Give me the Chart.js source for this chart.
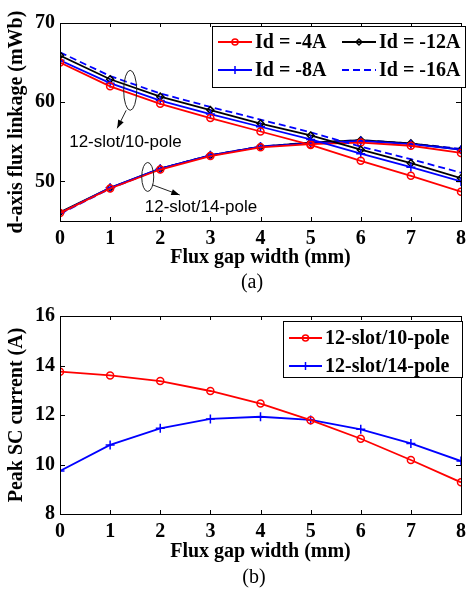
<!DOCTYPE html>
<html>
<head>
<meta charset="utf-8">
<title>Flux gap width</title>
<script src="https://cdn.jsdelivr.net/npm/chart.js@4.4.0/dist/chart.umd.min.js"></script>
<style>
    html, body { margin: 0; padding: 0; background: #fff; }
    #wrap { position: relative; width: 472px; height: 589px; overflow: hidden; }
    canvas { position: absolute; left: 0; }
</style>
</head>
<body>
<div id="wrap">
    <canvas id="chartA" width="472" height="295" style="top:0"></canvas>
    <canvas id="chartB" width="472" height="294" style="top:295px"></canvas>
</div>
<script>
// ---- data ----
const gapWidth = [0, 1, 2, 3, 4, 5, 6, 7, 8];
const currentLabels = ['Id = -4A', 'Id = -8A', 'Id = -12A', 'Id = -16A'];

// (a) d-axis flux linkage, 12-slot/10-pole
const flux10_4A  = [65.0, 62.0, 59.8, 58.0, 56.3, 54.6, 52.6, 50.7, 48.7];
const flux10_8A  = [65.3, 62.4, 60.2, 58.5, 56.9, 55.3, 53.5, 51.8, 50.0];
const flux10_12A = [65.9, 62.9, 60.7, 59.0, 57.3, 55.8, 54.0, 52.3, 50.4];
const flux10_16A = [66.3, 63.3, 61.1, 59.4, 57.8, 56.2, 54.4, 52.8, 51.1];
// (a) d-axis flux linkage, 12-slot/14-pole
const flux14_4A  = [46.0, 49.1, 51.5, 53.2, 54.3, 54.7, 54.9, 54.5, 53.6];
const flux14_8A  = [46.0, 49.2, 51.6, 53.3, 54.4, 54.8, 55.1, 54.7, 54.0];
const flux14_12A = [46.1, 49.2, 51.6, 53.3, 54.4, 54.9, 55.2, 54.8, 54.0];
const flux14_16A = [45.9, 49.1, 51.6, 53.3, 54.4, 54.9, 55.2, 54.8, 54.1];
const yTicksA = [50, 60, 70];

// (b) peak short-circuit current
const slotPoleLabels = ['12-slot/10-pole', '12-slot/14-pole'];
const scCurrent10 = [13.75, 13.6, 13.37, 12.97, 12.46, 11.79, 11.04, 10.18, 9.28];
const scCurrent14 = [9.74, 10.79, 11.46, 11.84, 11.93, 11.8, 11.42, 10.85, 10.14];
const yTicksB = [8, 10, 12, 14, 16];

const SERIF = '"Liberation Serif", "Times New Roman", serif';
const SANS = '"Liberation Sans", Arial, sans-serif';

function toPoints(values) {
    return gapWidth.map((g, i) => ({ x: g, y: values[i] }));
}

/**
 * Series styles
 */
const styles = {
    red:   { borderColor: '#ff0000', pointStyle: 'circle', pointRadius: 3.5, pointBorderWidth: 1.5 },
    blue:  { borderColor: '#0000ff', pointStyle: 'cross', pointRadius: 4.5, pointBorderWidth: 1.5 },
    black: { borderColor: '#000000', pointStyle: 'rectRot', pointRadius: 3.5, pointBorderWidth: 1.5 },
    dash:  { borderColor: '#0000ff', pointStyle: false, pointRadius: 0, pointBorderWidth: 0, borderDash: [7, 4] }
};

function makeSet(label, values, st) {
    return {
        label: label,
        data: toPoints(values),
        borderColor: st.borderColor,
        borderWidth: 1.8,
        borderDash: st.borderDash || [],
        pointStyle: st.pointStyle,
        pointRadius: st.pointRadius,
        pointBorderWidth: st.pointBorderWidth,
        pointBorderColor: st.borderColor,
        pointBackgroundColor: 'rgba(0,0,0,0)',
        tension: 0,
        fill: false
    };
}

/**
 * Box with inward ticks on all four sides (MATLAB look)
 */
const frameTicks = {
    id: 'frameTicks',
    afterDatasetsDraw(chart) {
        const ctx = chart.ctx;
        const a = chart.chartArea;
        const xs = chart.scales.x, ys = chart.scales.y;
        ctx.save();
        ctx.strokeStyle = '#000';
        ctx.lineWidth = 1;
        ctx.beginPath();
        xs.ticks.forEach(t => {
            const px = Math.round(xs.getPixelForValue(t.value)) + 0.5;
            ctx.moveTo(px, a.bottom); ctx.lineTo(px, a.bottom - 4);
            ctx.moveTo(px, a.top); ctx.lineTo(px, a.top + 4);
        });
        ys.ticks.forEach(t => {
            const py = Math.round(ys.getPixelForValue(t.value)) + 0.5;
            ctx.moveTo(a.left, py); ctx.lineTo(a.left + 5, py);
            ctx.moveTo(a.right, py); ctx.lineTo(a.right - 5, py);
        });
        ctx.stroke();
        ctx.strokeRect(Math.round(a.left) + 0.5, Math.round(a.top) + 0.5,
            Math.round(a.right - a.left), Math.round(a.bottom - a.top));
        ctx.restore();
    }
};

/**
 * Legend drawn inside the plot with a border
 */
const boxLegend = {
    id: 'boxLegend',
    afterDraw(chart, args, opts) {
        if (!opts || !opts.items) return;
        const ctx = chart.ctx;
        ctx.save();
        ctx.fillStyle = '#fff';
        ctx.fillRect(opts.x, opts.y, opts.w, opts.h);
        ctx.strokeStyle = '#000';
        ctx.lineWidth = 1;
        ctx.strokeRect(opts.x + 0.5, opts.y + 0.5, opts.w, opts.h);
        ctx.font = 'bold 20px ' + SERIF;
        ctx.textBaseline = 'middle';
        ctx.textAlign = 'left';
        opts.items.forEach(it => {
            const ds = chart.data.datasets[it.dataset];
            ctx.strokeStyle = ds.borderColor;
            ctx.lineWidth = 1.8;
            ctx.setLineDash(ds.borderDash || []);
            ctx.beginPath();
            ctx.moveTo(it.x, it.y);
            ctx.lineTo(it.x + opts.lineLen, it.y);
            ctx.stroke();
            ctx.setLineDash([]);
            if (ds.pointRadius > 0) {
                ctx.lineWidth = ds.pointBorderWidth;
                ctx.fillStyle = 'rgba(0,0,0,0)';
                Chart.helpers.drawPoint(ctx, {
                    pointStyle: ds.pointStyle,
                    radius: ds.pointRadius - 0.5,
                    borderWidth: ds.pointBorderWidth,
                    rotation: 0
                }, it.x + opts.lineLen / 2, it.y);
            }
            ctx.fillStyle = '#000';
            ctx.fillText(ds.label, it.x + opts.lineLen + opts.gap, it.y + 1);
        });
        ctx.restore();
    }
};

/**
 * Ellipse + arrow + text callouts, anchored in data space
 */
const groupNotes = {
    id: 'groupNotes',
    afterDatasetsDraw(chart, args, opts) {
        if (!opts || !opts.notes) return;
        const ctx = chart.ctx;
        const xs = chart.scales.x, ys = chart.scales.y;
        ctx.save();
        opts.notes.forEach(n => {
            const cx = xs.getPixelForValue(n.at[0]);
            const cy = ys.getPixelForValue(n.at[1]);
            ctx.strokeStyle = '#222';
            ctx.lineWidth = 1;
            ctx.beginPath();
            ctx.ellipse(cx, cy, n.rx, n.ry, 0, 0, Math.PI * 2);
            ctx.stroke();

            const x0 = cx + n.from[0], y0 = cy + n.from[1];
            const x1 = cx + n.to[0], y1 = cy + n.to[1];
            ctx.beginPath();
            ctx.moveTo(x0, y0);
            ctx.lineTo(x1, y1);
            ctx.stroke();
            const ang = Math.atan2(y1 - y0, x1 - x0);
            ctx.fillStyle = '#000';
            ctx.beginPath();
            ctx.moveTo(x1, y1);
            ctx.lineTo(x1 - 9 * Math.cos(ang - 0.35), y1 - 9 * Math.sin(ang - 0.35));
            ctx.lineTo(x1 - 9 * Math.cos(ang + 0.35), y1 - 9 * Math.sin(ang + 0.35));
            ctx.closePath();
            ctx.fill();

            ctx.font = '17px ' + SANS;
            ctx.textBaseline = 'middle';
            ctx.textAlign = 'left';
            ctx.fillText(n.text, cx + n.textAt[0], cy + n.textAt[1]);
        });
        ctx.restore();
    }
};

/**
 * Sub-figure caption "(a)" / "(b)"
 */
const caption = {
    id: 'caption',
    afterDraw(chart, args, opts) {
        if (!opts || !opts.text) return;
        const ctx = chart.ctx;
        ctx.save();
        ctx.font = '20px ' + SERIF;
        ctx.fillStyle = '#000';
        ctx.textAlign = 'center';
        ctx.textBaseline = 'middle';
        ctx.fillText(opts.text, opts.x, opts.y);
        ctx.restore();
    }
};

function axisOptions(yTitle, yMin, yMax, yTicks, xHeight) {
    return {
        x: {
            type: 'linear',
            min: 0,
            max: 8,
            grid: { display: false, drawTicks: false },
            border: { display: false },
            ticks: {
                stepSize: 1,
                padding: 6,
                color: '#000',
                font: { family: SERIF, size: 20, weight: 'bold' }
            },
            title: {
                display: true,
                text: 'Flux gap width (mm)',
                color: '#000',
                font: { family: SERIF, size: 20, weight: 'bold' },
                padding: { top: 0, bottom: 25 }
            },
            afterFit(scale) { scale.height = xHeight; }
        },
        y: {
            type: 'linear',
            min: yMin,
            max: yMax,
            grid: { display: false, drawTicks: false },
            border: { display: false },
            afterBuildTicks(scale) {
                scale.ticks = yTicks.map(v => ({ value: v }));
            },
            ticks: {
                padding: 5,
                color: '#000',
                font: { family: SERIF, size: 20, weight: 'bold' }
            },
            title: {
                display: true,
                text: yTitle,
                color: '#000',
                font: { family: SERIF, size: 20, weight: 'bold' },
                padding: { top: 5, bottom: 0 }
            },
            afterFit(scale) { scale.width = 60; }
        }
    };
}

function initCharts() {
    // ---- (a) ----
    const setsA = [
        makeSet(currentLabels[0], flux10_4A, styles.red),
        makeSet(currentLabels[1], flux10_8A, styles.blue),
        makeSet(currentLabels[2], flux10_12A, styles.black),
        makeSet(currentLabels[3], flux10_16A, styles.dash),
        makeSet(currentLabels[0], flux14_4A, styles.red),
        makeSet(currentLabels[1], flux14_8A, styles.blue),
        makeSet(currentLabels[2], flux14_12A, styles.black),
        makeSet(currentLabels[3], flux14_16A, styles.dash)
    ];

    new Chart(document.getElementById('chartA'), {
        type: 'line',
        data: { datasets: setsA },
        options: {
            responsive: false,
            animation: false,
            layout: { padding: { left: 0, right: 6, top: 23, bottom: 0 } },
            scales: axisOptions('d-axis flux linkage (mWb)', 45, 70, yTicksA, 74),
            plugins: {
                legend: { display: false },
                tooltip: { enabled: false },
                boxLegend: {
                    x: 212, y: 26, w: 253, h: 61,
                    lineLen: 34, gap: 3,
                    items: [
                        { dataset: 0, x: 218, y: 42 },
                        { dataset: 2, x: 342, y: 42 },
                        { dataset: 1, x: 218, y: 70 },
                        { dataset: 3, x: 342, y: 70 }
                    ]
                },
                groupNotes: {
                    notes: [
                        { text: slotPoleLabels[0], at: [1.40, 61.5], rx: 6.5, ry: 20,
                          from: [-4, 20], to: [-13, 38], textAt: [-61, 52] },
                        { text: slotPoleLabels[1], at: [1.75, 50.56], rx: 6, ry: 14.5,
                          from: [5, 8], to: [32, 18], textAt: [-3, 30] }
                    ]
                },
                caption: { text: '(a)', x: 252, y: 283 }
            }
        },
        plugins: [frameTicks, groupNotes, boxLegend, caption]
    });

    // ---- (b) ----
    const setsB = [
        makeSet(slotPoleLabels[0], scCurrent10, styles.red),
        makeSet(slotPoleLabels[1], scCurrent14, styles.blue)
    ];

    new Chart(document.getElementById('chartB'), {
        type: 'line',
        data: { datasets: setsB },
        options: {
            responsive: false,
            animation: false,
            layout: { padding: { left: 0, right: 6, top: 21, bottom: 0 } },
            scales: axisOptions('Peak SC current (A)', 8, 16, yTicksB, 75),
            plugins: {
                legend: { display: false },
                tooltip: { enabled: false },
                boxLegend: {
                    x: 283, y: 26, w: 179, h: 56,
                    lineLen: 33, gap: 3,
                    items: [
                        { dataset: 0, x: 289, y: 43 },
                        { dataset: 1, x: 289, y: 71 }
                    ]
                },
                caption: { text: '(b)', x: 254, y: 283 }
            }
        },
        plugins: [frameTicks, boxLegend, caption]
    });
}

document.addEventListener('DOMContentLoaded', initCharts);
</script>
</body>
</html>
